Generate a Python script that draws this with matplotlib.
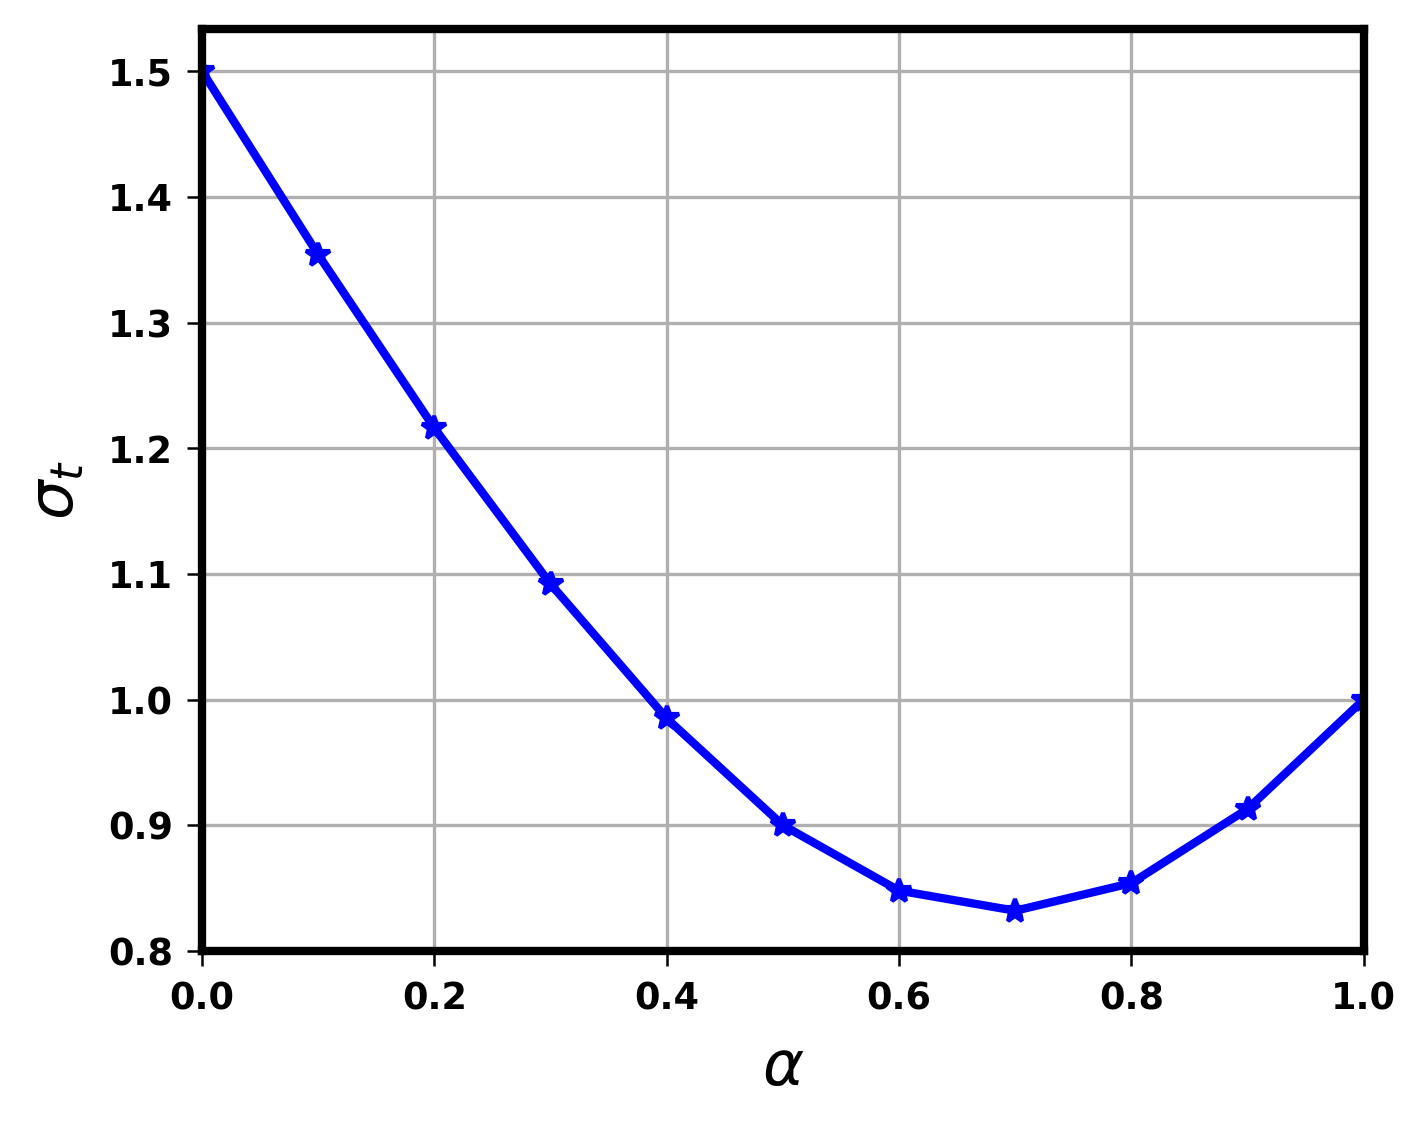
import matplotlib
matplotlib.use("Agg")
import matplotlib.pyplot as plt

alpha = [0.0, 0.1, 0.2, 0.3, 0.4, 0.5, 0.6, 0.7, 0.8, 0.9, 1.0]
sigma_t = [1.500, 1.354, 1.216, 1.092, 0.985, 0.900, 0.848, 0.832, 0.854, 0.913, 1.000]

fig = plt.figure(figsize=(4.76, 3.75), dpi=300)
ax = fig.add_axes([0.1415, 0.1547, 0.8135, 0.8193])

ax.plot(alpha, sigma_t, color="blue", linewidth=2, marker="*", markersize=6)
ax.set_xlim(0, 1)
ax.set_ylim(0.8, 1.5334)
ax.grid(True, color="#b0b0b0", linewidth=0.8)

for spine in ax.spines.values():
    spine.set_linewidth(2)

ax.tick_params(labelsize=8.8, width=0.6)
for lbl in ax.get_xticklabels() + ax.get_yticklabels():
    lbl.set_fontweight("bold")

ax.set_xlabel(r"$\alpha$", fontsize=15, labelpad=5)
ax.set_ylabel(r"$\sigma_t$", fontsize=15, labelpad=5)

fig.savefig("out.png", dpi=300)
